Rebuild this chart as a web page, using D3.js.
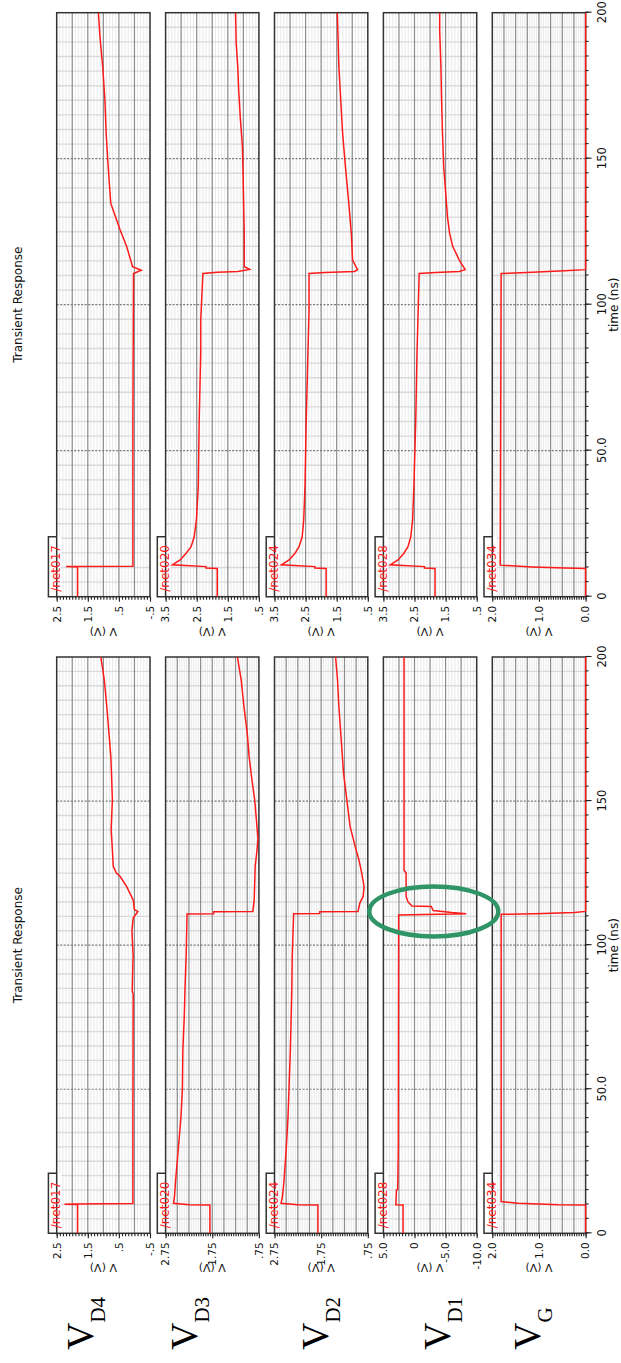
<!DOCTYPE html>
<html>
<head>
<meta charset="utf-8">
<script src="https://cdn.jsdelivr.net/npm/d3@7"></script>
<style>
  html, body { margin: 0; padding: 0; background: #fff; }
  svg { display: block; }
</style>
</head>
<body>
<svg id="chart" width="621" height="1363"></svg>
<script>
// time axis (ns)
const timeTicks = [0, 50, 100, 150, 200];
const timeTickLabels = ['0', '50.0', '100', '150', '200'];
const netNames = ['/net017', '/net020', '/net024', '/net028', '/net034'];
const nodeNames = ['D4', 'D3', 'D2', 'D1', 'G'];

// run A : the copy with the node labels and the circled glitch
const runADomains = [[-0.5, 2.5], [0.75, 2.75], [0.75, 2.75], [-10, 5], [0, 2]];
const runAGridSteps = [0.5, 0.25, 0.25, 2.5, 0.25];
const runATickValues = [[2.5, 1.5, 0.5, -0.5], [2.75, 1.75, 0.75], [2.75, 1.75, 0.75], [5, 0, -5, -10], [2, 1, 0]];
const runATickLabels = [['2.5', '1.5', '.5', '-.5'], ['2.75', '1.75', '.75'], ['2.75', '1.75', '.75'], ['5.0', '0', '-5.0', '-10.0'], ['2.0', '1.0', '0.0']];

// run B : the second copy
const runBDomains = [[-0.5, 2.5], [0.5, 3.5], [0.5, 3.5], [0.5, 3.5], [0, 2]];
const runBGridSteps = [0.5, 0.5, 0.5, 0.5, 0.25];
const runBTickValues = [[2.5, 1.5, 0.5, -0.5], [3.5, 2.5, 1.5, 0.5], [3.5, 2.5, 1.5, 0.5], [3.5, 2.5, 1.5, 0.5], [2, 1, 0]];
const runBTickLabels = [['2.5', '1.5', '.5', '-.5'], ['3.5', '2.5', '1.5', '.5'], ['3.5', '2.5', '1.5', '.5'], ['3.5', '2.5', '1.5', '.5'], ['2.0', '1.0', '0.0']];

// traces [time ns, volts]
const runANet017 = [[0,1.83],[10,1.83],[10.1,2.25],[10.2,1.9],[10.3,0.05],[40,0.05],[83,0.04],[84,0.07],[94,0.05],[96,0.04],[105,0.08],[109.4,0.04],[111.7,-0.11],[112.3,0.0],[115.7,0.04],[120.3,0.25],[123.8,0.46],[125,0.58],[127.3,0.68],[135,0.72],[140,0.75],[150.5,0.71],[160,0.74],[165.5,0.76],[173.6,0.82],[182.9,0.89],[192.1,0.97],[200,1.08]];
const runANet020 = [[0,1.80],[9.8,1.80],[9.9,2.24],[10.4,2.58],[12.7,2.56],[17.4,2.54],[28.9,2.48],[40.5,2.42],[49.8,2.39],[63.7,2.38],[75.2,2.35],[86.8,2.33],[96,2.31],[110.8,2.29],[110.9,1.72],[111.6,1.72],[111.7,0.88],[115.7,0.85],[127.3,0.83],[133,0.79],[137,0.77],[144.7,0.81],[150.5,0.84],[157.4,0.9],[165.5,0.96],[173.6,1.0],[182.8,1.07],[192.1,1.13],[200,1.21]];
const runANet024 = [[0,1.82],[9.8,1.82],[9.9,2.25],[10.4,2.61],[12.7,2.58],[17.4,2.55],[28.9,2.5],[40.5,2.46],[49.8,2.44],[63.7,2.41],[83.3,2.38],[96,2.37],[110.9,2.34],[111,1.78],[111.6,1.78],[111.7,0.96],[114.6,0.92],[116.9,0.85],[120.3,0.83],[125,0.88],[129.6,0.94],[134.2,1.02],[141.2,1.13],[150.5,1.2],[159.7,1.27],[171.3,1.32],[182.8,1.37],[192.1,1.4],[200,1.44]];
const runANet028 = [[0,1.84],[9.8,1.84],[9.9,3.0],[15,2.9],[15.2,2.7],[30,2.6],[110.5,2.55],[110.9,-8.3],[111.3,-6.0],[112,-3.0],[113.4,-2.7],[113.6,0.4],[115,1.05],[117,1.35],[125,1.35],[126,1.68],[200,1.68]];
const runANet034 = [[0,0],[9.8,0],[9.9,0.58],[10.4,1.45],[11,1.81],[110.7,1.81],[110.9,1.09],[111.3,0.24],[111.7,0],[200,0]];

const runBNet017 = [[0,1.83],[10.2,1.83],[10.3,2.2],[10.4,0.05],[60,0.05],[110.7,0.03],[111.8,-0.22],[113,0.06],[119.9,0.25],[125.6,0.46],[130.7,0.63],[134.7,0.76],[140.4,0.8],[149.9,0.86],[158.7,0.91],[170.1,0.95],[181.5,1.02],[190.6,1.1],[200,1.16]];
const runBNet020 = [[0,1.84],[9.7,1.84],[9.8,2.2],[10.3,2.2],[10.9,3.28],[12.6,3.03],[14.9,2.84],[17.1,2.68],[20.5,2.58],[26.3,2.51],[37.7,2.45],[60.5,2.42],[83.4,2.37],[94.8,2.37],[110.7,2.30],[111.1,1.84],[111.4,1.18],[112.1,0.8],[113,0.97],[124.4,0.97],[145,1.01],[154.1,1.03],[164.4,1.1],[173.5,1.15],[181.5,1.18],[189.5,1.23],[200,1.25]];
const runBNet024 = [[0,1.84],[9.7,1.84],[9.8,2.2],[10.3,2.2],[10.9,3.28],[12.6,3.03],[14.9,2.84],[17.1,2.71],[20.5,2.61],[26.3,2.56],[37.7,2.52],[60.5,2.48],[98,2.39],[110.7,2.39],[111,1.89],[111.4,0.93],[112,0.83],[115.3,0.99],[124.4,1.03],[135.8,1.12],[147.3,1.22],[158.7,1.31],[170.1,1.37],[181.5,1.43],[200,1.48]];
const runBNet028 = [[0,1.84],[9.7,1.84],[9.8,2.18],[10.3,2.18],[10.9,3.28],[12.6,3.03],[14.9,2.84],[17.1,2.71],[20.5,2.62],[26.3,2.56],[37.7,2.52],[60.5,2.46],[83,2.42],[94.8,2.39],[110.7,2.35],[111,1.82],[111.4,1.06],[112,0.87],[115.3,1.06],[119.9,1.27],[124.4,1.37],[130.1,1.44],[135.8,1.48],[147.3,1.56],[158.7,1.6],[170.1,1.63],[181.5,1.65],[194,1.69],[200,1.69]];
const runBNet034 = [[0,0],[9.7,0],[9.8,0.43],[10.2,1.15],[10.8,1.83],[110.7,1.81],[111,1.26],[111.6,0.45],[112,0],[200,0]];

// circled spot on run A, /net028
const glitchTime = 111.7;
const glitchVolts = -3.1;

// ---- layout (the whole figure is drawn landscape, then turned a quarter left)
const W = 1363;
const panelTop0 = 56.7, panelStep = 108.9, panelH = 93.3;
const tabW = 60, tabH = 8.3;
const font = "'DejaVu Sans', sans-serif";

let svg = d3.select('#chart');
let root = svg.append('g')
  .attr('transform', `translate(0,${W}) rotate(-90)`);

let clipId = 0;

function drawRun(run) {
  let x = d3.scaleLinear().domain([0, 200]).range(run.xRange);
  let [x0, x1] = run.xRange;
  let g = root.append('g');

  g.append('text')
    .attr('x', (x0 + x1) / 2)
    .attr('y', 22)
    .attr('text-anchor', 'middle')
    .style('font-family', font)
    .style('font-size', '12px')
    .attr('fill', '#111')
    .text('Transient Response');

  let scales = [];

  run.traces.forEach((trace, i) => {
    let top = panelTop0 + i * panelStep;
    let bottom = top + panelH;
    let [lo, hi] = run.domains[i];
    let y = d3.scaleLinear().domain(run.domains[i]).range([bottom, top]);
    scales.push(y);
    let step = run.gridSteps[i];
    let minorVals = d3.range(0, Math.round((hi - lo) / (step / 5)) + 1).map(k => lo + k * step / 5);
    let majorVals = d3.range(1, Math.round((hi - lo) / step)).map(k => lo + k * step);

    let p = g.append('g');

    p.append('rect')
      .attr('x', x0).attr('y', top)
      .attr('width', x1 - x0).attr('height', panelH)
      .attr('fill', '#fff');

    // minor grid
    p.append('g').selectAll('line')
      .data(minorVals)
      .join('line')
      .attr('x1', x0).attr('x2', x1)
      .attr('y1', d => y(d)).attr('y2', d => y(d))
      .attr('stroke', '#e9e9e9').attr('stroke-width', 1);

    p.append('g').selectAll('line')
      .data(d3.range(5, 200, 5).filter(t => t % 50 !== 0))
      .join('line')
      .attr('x1', d => x(d)).attr('x2', d => x(d))
      .attr('y1', top).attr('y2', bottom)
      .attr('stroke', '#dadada').attr('stroke-width', 1.4);

    // major grid
    p.append('g').selectAll('line')
      .data(majorVals)
      .join('line')
      .attr('x1', x0).attr('x2', x1)
      .attr('y1', d => y(d)).attr('y2', d => y(d))
      .attr('stroke', '#8c8c8c').attr('stroke-width', 1.2);

    p.append('g').selectAll('line')
      .data([50, 100, 150])
      .join('line')
      .attr('x1', d => x(d)).attr('x2', d => x(d))
      .attr('y1', top).attr('y2', bottom)
      .attr('stroke', '#7a7a7a').attr('stroke-width', 1.2)
      .attr('stroke-dasharray', '2,1.5');

    // name tab
    p.append('rect')
      .attr('x', x0).attr('y', top - tabH)
      .attr('width', tabW).attr('height', tabH + 4.5)
      .attr('fill', '#fff');

    p.append('rect')
      .attr('x', x0).attr('y', top)
      .attr('width', x1 - x0).attr('height', panelH)
      .attr('fill', 'none')
      .attr('stroke', '#333').attr('stroke-width', 1.5);

    p.append('path')
      .attr('d', `M${x0},${top} V${top - tabH} H${x0 + tabW} V${top}`)
      .attr('fill', 'none')
      .attr('stroke', '#333').attr('stroke-width', 1.5);

    // trace
    let cid = 'clip' + (clipId++);
    p.append('clipPath').attr('id', cid)
      .append('rect')
      .attr('x', x0).attr('y', top - 2)
      .attr('width', x1 - x0).attr('height', panelH + 4);

    let valueline = d3.line()
      .x(d => x(d[0]))
      .y(d => y(d[1]));

    p.append('path')
      .datum(trace)
      .attr('clip-path', `url(#${cid})`)
      .attr('fill', 'none')
      .attr('stroke', '#ff1a1a')
      .attr('stroke-width', 1.5)
      .attr('d', valueline);

    p.append('text')
      .attr('x', x0 + 5)
      .attr('y', top + 3.5)
      .style('font-family', font)
      .style('font-size', '12px')
      .attr('fill', '#ff1a1a')
      .text(netNames[i]);

    // value axis
    let minorAxis = d3.axisLeft(y).tickValues(minorVals).tickSize(3).tickFormat('');
    let labelAxis = d3.axisLeft(y)
      .tickValues(run.tickValues[i])
      .tickSize(5)
      .tickPadding(4)
      .tickFormat((d, j) => run.tickLabels[i][j]);

    let ax1 = p.append('g').attr('transform', `translate(${x0},0)`).call(minorAxis);
    let ax2 = p.append('g').attr('transform', `translate(${x0},0)`).call(labelAxis);
    [ax1, ax2].forEach(a => {
      a.select('.domain').remove();
      a.selectAll('line').attr('stroke', '#222').attr('stroke-width', 1.1);
      a.selectAll('text')
        .attr('fill', '#111')
        .style('font-family', font)
        .style('font-size', '10.5px');
    });

    p.append('text')
      .attr('transform', `translate(${x0 - 31},${(top + bottom) / 2}) rotate(-90)`)
      .attr('text-anchor', 'middle')
      .style('font-family', font)
      .style('font-size', '11px')
      .attr('fill', '#111')
      .text('V (V)');

    // time axis under the last panel
    if (i === run.traces.length - 1) {
      let minorT = d3.axisBottom(x).tickValues(d3.range(0, 201, 5)).tickSize(3).tickFormat('');
      let majorT = d3.axisBottom(x)
        .tickValues(timeTicks)
        .tickSize(6)
        .tickPadding(6)
        .tickFormat((d, j) => timeTickLabels[j]);
      let t1 = g.append('g').attr('transform', `translate(0,${bottom})`).call(minorT);
      let t2 = g.append('g').attr('transform', `translate(0,${bottom})`).call(majorT);
      [t1, t2].forEach(a => {
        a.select('.domain').remove();
        a.selectAll('line').attr('stroke', '#222').attr('stroke-width', 1.1);
        a.selectAll('text')
          .attr('fill', '#111')
          .style('font-family', font)
          .style('font-size', '11.5px');
      });
      g.append('text')
        .attr('x', (x0 + x1) / 2)
        .attr('y', bottom + 32)
        .attr('text-anchor', 'middle')
        .style('font-family', font)
        .style('font-size', '12px')
        .attr('fill', '#111')
        .text('time (ns)');
    }
  });

  return {x, scales, g};
}

let runA = drawRun({
  xRange: [129.7, 706],
  domains: runADomains,
  gridSteps: runAGridSteps,
  tickValues: runATickValues,
  tickLabels: runATickLabels,
  traces: [runANet017, runANet020, runANet024, runANet028, runANet034]
});

drawRun({
  xRange: [766.3, 1350.3],
  domains: runBDomains,
  gridSteps: runBGridSteps,
  tickValues: runBTickValues,
  tickLabels: runBTickLabels,
  traces: [runBNet017, runBNet020, runBNet024, runBNet028, runBNet034]
});

// node names on the far left
let nodeBaselines = [93, 197, 328, 450, 540];
let names = root.append('g');
nodeNames.forEach((n, i) => {
  let t = names.append('text')
    .attr('x', 13)
    .attr('y', nodeBaselines[i])
    .style('font-family', "'Liberation Serif', 'Times New Roman', serif")
    .attr('fill', '#000');
  t.append('tspan').style('font-size', '38px').text('V');
  t.append('tspan').attr('dy', 12).style('font-size', '21px').text(n);
});

// green circle round the glitch
runA.g.append('ellipse')
  .attr('cx', runA.x(glitchTime))
  .attr('cy', runA.scales[3](glitchVolts))
  .attr('rx', 25)
  .attr('ry', 64.5)
  .attr('fill', 'none')
  .attr('stroke', '#2f9566')
  .attr('stroke-width', 4.5);
</script>
</body>
</html>
